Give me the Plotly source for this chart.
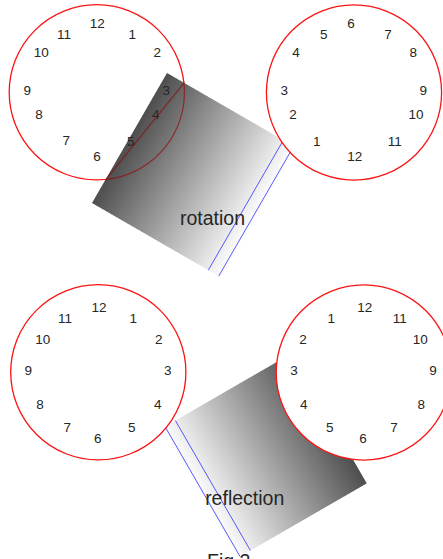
import numpy as np
import plotly.graph_objects as go

# ---------------- data ----------------
# clock labels in slot order (slot 0 = top, going clockwise)
TL_LABELS = ["12", "1", "2", "3", "4", "5", "6", "7", "8", "9", "10", "11"]
TR_LABELS = ["6", "7", "8", "9", "10", "11", "12", "1", "2", "3", "4", "5"]
BL_LABELS = ["12", "1", "2", "3", "4", "5", "6", "7", "8", "9", "10", "11"]
BR_LABELS = ["12", "11", "10", "9", "8", "7", "6", "5", "4", "3", "2", "1"]

# label offsets from each clock centre
TL_DX = [0.5, 35.5, 60.5, 69.5, 58.9, 33.9, 0.2, -30.5, -57.8, -69.5, -55.5, -32.8]
TL_DY = [-67.3, -56.6, -38.3, -0.6, 23.7, 50.0, 65.7, 49.4, 23.7, -0.6, -38.3, -56.6]
TR_DX = [-3.0, 34.0, 59.3, 69.3, 62.0, 40.7, 0.7, -37.3, -61.0, -69.7, -58.0, -30.3]
TR_DY = [-67.5, -56.8, -38.5, -0.8, 23.5, 49.8, 65.5, 49.8, 23.5, -0.8, -38.5, -56.8]
BL_DX = [0.7, 35.0, 60.4, 69.4, 59.4, 33.4, -0.6, -31.0, -58.3, -70.0, -55.6, -33.3]
BL_DY = [-64.0, -53.0, -31.3, -0.6, 33.7, 56.0, 67.0, 56.0, 33.7, -0.6, -31.3, -53.0]
BR_DX = [0.9, 35.9, 56.5, 69.2, 57.5, 30.2, -0.8, -34.1, -60.1, -69.8, -60.8, -32.5]
BR_DY = [-64.2, -53.2, -31.5, -0.8, 33.5, 55.8, 66.8, 55.8, 33.5, -0.8, -31.5, -53.2]

CAPTIONS = ["rotation", "reflection"]
FIG_CAPTION = "Fig 2"

# ---------------- layout constants ----------------
FIG_W, FIG_H = 443, 559
R = 87.6
CENTERS = {"TL": (96.8, 92.3), "TR": (354.0, 92.5), "BL": (98.3, 372.3), "BR": (363.8, 372.5)}
RED = "rgb(250,20,20)"
BLUE = "rgb(70,70,255)"
TEXT = "#262626"
FONT = "Liberation Sans, Arial, sans-serif"

RECT_W, RECT_H = 150.0, 150.0
ANG = np.deg2rad(30)
# top (rotation) rectangle: anchored at its lower-left corner
TOP_O = np.array([92.0, 203.0])
TOP_U = np.array([np.cos(ANG), np.sin(ANG)])       # gradient direction (dark -> white)
TOP_V = np.array([np.sin(ANG), -np.cos(ANG)])      # along the dark edge
# bottom (reflection) rectangle: mirror image
BOT_O = np.array([366.7, 483.3])
BOT_U = np.array([-np.cos(ANG), np.sin(ANG)])
BOT_V = np.array([-np.sin(ANG), -np.cos(ANG)])
LINE_OFFS = [134.3, 146.3]
DARK, LIGHT = 78, 255

shapes = []


def path(pts):
    return "M " + " L ".join(f"{p[0]:.2f},{p[1]:.2f}" for p in pts) + " Z"


def circle(c, fill):
    cx, cy = c
    return dict(type="circle", xref="x", yref="y", x0=cx - R, x1=cx + R, y0=cy - R, y1=cy + R,
                line=dict(color=RED, width=1.3), fillcolor=fill, layer="below")


def gradient_rect(o, u, v):
    n = 100
    out = []
    for i in range(n):
        w0 = RECT_W * i / n
        w1 = RECT_W * (i + 1) / n + (0.7 if i < n - 1 else 0)
        t = (i + 0.5) / n
        g = int(round(DARK + (LIGHT - DARK) * t))
        pts = [o + w0 * u, o + w1 * u, o + w1 * u + RECT_H * v, o + w0 * u + RECT_H * v]
        out.append(dict(type="path", path=path(pts), fillcolor=f"rgb({g},{g},{g})",
                        line=dict(width=0), layer="below"))
    return out


# top-left clock outline (below the rectangle)
shapes.append(circle(CENTERS["TL"], "rgba(0,0,0,0)"))
shapes += gradient_rect(TOP_O, TOP_U, TOP_V)
shapes += gradient_rect(BOT_O, BOT_U, BOT_V)

# part of the top-left outline seen through the gradient
th = np.linspace(0, 2 * np.pi, 1441)
cx, cy = CENTERS["TL"]
px, py = cx + R * np.cos(th), cy + R * np.sin(th)
rel = np.stack([px - TOP_O[0], py - TOP_O[1]], 1)
pu, pv = rel @ TOP_U, rel @ TOP_V
inside = (pu >= 0) & (pu <= RECT_W) & (pv >= 0) & (pv <= RECT_H)
idx = np.where(inside)[0]
if len(idx):
    arc = [(px[i], py[i]) for i in idx]
    shapes.append(dict(type="path",
                       path="M " + " L ".join(f"{a:.2f},{b:.2f}" for a, b in arc),
                       line=dict(color="rgba(150,0,0,0.6)", width=1.3), layer="below"))

# blue double lines
for o, u, v in [(TOP_O, TOP_U, TOP_V), (BOT_O, BOT_U, BOT_V)]:
    for off in LINE_OFFS:
        a = o + off * u
        b = a + RECT_H * v
        shapes.append(dict(type="line", x0=a[0], y0=a[1], x1=b[0], y1=b[1],
                           line=dict(color=BLUE, width=0.9), layer="below"))

# clocks with white faces on top
shapes.append(circle(CENTERS["TR"], "white"))
shapes.append(circle(CENTERS["BR"], "white"))
shapes.append(circle(CENTERS["BL"], "white"))

fig = go.Figure()

for key, labels, dx, dy in [("TL", TL_LABELS, TL_DX, TL_DY), ("TR", TR_LABELS, TR_DX, TR_DY),
                            ("BL", BL_LABELS, BL_DX, BL_DY), ("BR", BR_LABELS, BR_DX, BR_DY)]:
    cx, cy = CENTERS[key]
    fig.add_trace(go.Scatter(
        x=[cx + d for d in dx], y=[cy + d for d in dy], text=labels, mode="text",
        textposition="middle center", textfont=dict(family=FONT, size=13.5, color=TEXT),
        hoverinfo="skip", cliponaxis=False, showlegend=False))

CAPTION_POS = [(212.5, 220.0), (244.7, 500.0)]
fig.add_trace(go.Scatter(
    x=[p[0] for p in CAPTION_POS], y=[p[1] for p in CAPTION_POS], text=CAPTIONS, mode="text",
    textposition="middle center", textfont=dict(family=FONT, size=19.5, color=TEXT),
    hoverinfo="skip", cliponaxis=False, showlegend=False))

fig.update_layout(
    width=FIG_W, height=FIG_H, margin=dict(l=0, r=0, t=0, b=0, pad=0),
    paper_bgcolor="white", plot_bgcolor="white", showlegend=False,
    xaxis=dict(range=[0, FIG_W], visible=False, fixedrange=True),
    yaxis=dict(range=[FIG_H, 0], visible=False, fixedrange=True),
    shapes=shapes,
    annotations=[dict(x=228.4, y=548.0, xref="x", yref="y", text=FIG_CAPTION, showarrow=False,
                      xanchor="center", yanchor="top",
                      font=dict(family=FONT, size=19.5, color=TEXT))],
)

fig.write_html("out.html", config={"displayModeBar": False},
               post_script="document.body.style.margin='0px';document.body.style.overflow='hidden';")
